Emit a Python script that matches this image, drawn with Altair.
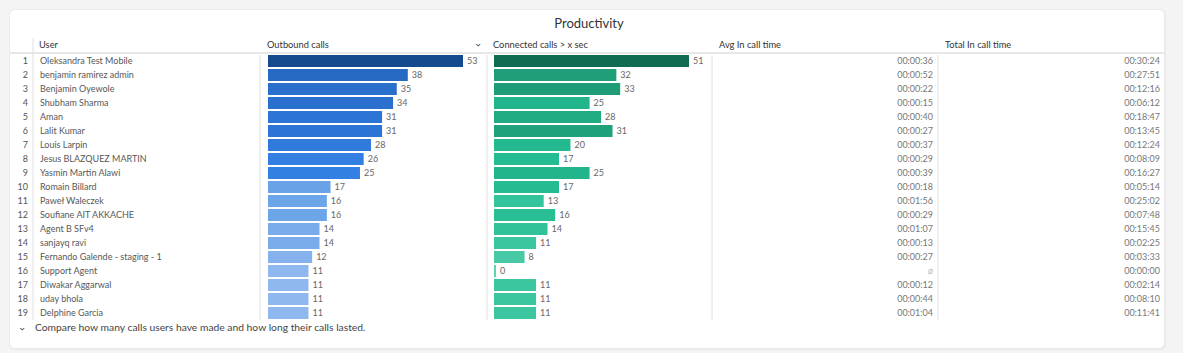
import altair as alt
import pandas as pd

users = ["Oleksandra Test Mobile", "benjamin ramirez admin", "Benjamin Oyewole", "Shubham Sharma",
         "Aman", "Lalit Kumar", "Louis Larpin", "Jesus BLAZQUEZ MARTIN", "Yasmin Martin Alawi",
         "Romain Billard", "Paweł Waleczek", "Soufiane AIT AKKACHE", "Agent B SFv4", "sanjayq ravi",
         "Fernando Galende - staging - 1", "Support Agent", "Diwakar Aggarwal", "uday bhola",
         "Delphine Garcia"]
outbound = [53, 38, 35, 34, 31, 31, 28, 26, 25, 17, 16, 16, 14, 14, 12, 11, 11, 11, 11]
connected = [51, 32, 33, 25, 28, 31, 20, 17, 25, 17, 13, 16, 14, 11, 8, 0, 11, 11, 11]
avg_time = ["00:00:36", "00:00:52", "00:00:22", "00:00:15", "00:00:40", "00:00:27", "00:00:37",
            "00:00:29", "00:00:39", "00:00:18", "00:01:56", "00:00:29", "00:01:07", "00:00:13",
            "00:00:27", None, "00:00:12", "00:00:44", "00:01:04"]
total_time = ["00:30:24", "00:27:51", "00:12:16", "00:06:12", "00:18:47", "00:13:45", "00:12:24",
              "00:08:09", "00:16:27", "00:05:14", "00:25:02", "00:07:48", "00:15:45", "00:02:25",
              "00:03:33", "00:00:00", "00:02:14", "00:08:10", "00:11:41"]

df = pd.DataFrame({
    "rank": list(range(1, len(users) + 1)),
    "user": users,
    "outbound": outbound,
    "connected": connected,
    "avg": [a if a is not None else "ø" for a in avg_time],
    "avg_missing": [a is None for a in avg_time],
    "total": total_time,
})

FONT = "Lato"
W, H = 1183, 353

base = alt.Chart(df)
Y = alt.Y("rank:O", scale=alt.Scale(domain=list(range(1, len(users) + 1)), range=[54, 320],
                                     paddingInner=0.14, paddingOuter=0.07), axis=None)

one = alt.Data(values=[{"a": 1}])

shadow = alt.Chart(one).mark_rect(fill="#ebebeb", cornerRadius=6).encode(
    x=alt.value(9), x2=alt.value(1166), y=alt.value(9), y2=alt.value(350))
card = alt.Chart(one).mark_rect(fill="white", cornerRadius=5).encode(
    x=alt.value(10), x2=alt.value(1164), y=alt.value(10), y2=alt.value(348))

title = alt.Chart(one).mark_text(text="Productivity", font=FONT, fontSize=13, color="#333",
                                 align="center", baseline="middle").encode(
    x=alt.value(589), y=alt.value(24))

hdr_line = alt.Chart(one).mark_rule(color="#cfcfcf", strokeWidth=1.2).encode(
    x=alt.value(10), x2=alt.value(1164), y=alt.value(53))

def vline(x, y0):
    return alt.Chart(one).mark_rule(color="#e0e0e0", strokeWidth=1).encode(
        x=alt.value(x), y=alt.value(y0), y2=alt.value(320))

seps = [vline(33, 38), vline(260, 55), vline(487, 55), vline(712, 55), vline(938, 55)]

def header(txt, x):
    return alt.Chart(one).mark_text(text=txt, font=FONT, fontSize=9.3, color="#333",
                                    align="left", baseline="middle").encode(
        x=alt.value(x), y=alt.value(45))

headers = [header("User", 39), header("Outbound calls", 267),
           header("Connected calls > x sec", 493), header("Avg In call time", 719),
           header("Total In call time", 945)]
chev1 = alt.Chart(one).mark_text(text="›", font="DejaVu Sans", fontSize=10, color="#333",
                                 angle=90, align="center", baseline="middle").encode(
    x=alt.value(478), y=alt.value(45))
chev2 = alt.Chart(one).mark_text(text="›", font="DejaVu Sans", fontSize=10, color="#333",
                                 angle=90, align="center", baseline="middle").encode(
    x=alt.value(22), y=alt.value(329))
footer = alt.Chart(one).mark_text(
    text="Compare how many calls users have made and how long their calls lasted.",
    font=FONT, fontSize=10.3, color="#444", align="left", baseline="middle").encode(
    x=alt.value(35), y=alt.value(328))

txt = dict(font=FONT, fontSize=9, baseline="middle")

rank_t = base.mark_text(align="right", color="#555", **txt).encode(
    x=alt.value(28), y=Y, text="rank:Q")
user_t = base.mark_text(align="left", color="#585858", **txt).encode(
    x=alt.value(40), y=Y, text="user:N")

blue_dom = [11, 12, 14, 16, 17, 25, 31, 35, 38, 53]
blue_rng = ["#8eb8ee", "#85b2ec", "#7aabea", "#6da5e9", "#6aa2e8", "#3380e3", "#2c74d6",
            "#2a6fcb", "#266ac3", "#154a8f"]
green_dom = [0, 8, 11, 13, 17, 25, 28, 33, 51]
green_rng = ["#58d0ad", "#49caa7", "#3cc6a0", "#34c49c", "#25bc92", "#22b48a", "#20ab83",
             "#1e9c78", "#106b52"]

xo = alt.Scale(domain=[0, max(outbound)], range=[268, 463], nice=False, zero=True)
xc = alt.Scale(domain=[0, max(connected)], range=[494, 689], nice=False, zero=True)

out_bar = base.mark_bar(cornerRadius=0).encode(
    x=alt.X("outbound:Q", scale=xo, axis=None), y=Y,
    color=alt.Color("outbound:Q", scale=alt.Scale(domain=blue_dom, range=blue_rng), legend=None))
out_lbl = base.mark_text(align="left", dx=4, color="#666", **txt).encode(
    x=alt.X("outbound:Q", scale=xo, axis=None), y=Y, text="outbound:Q")

conn_bar = base.transform_calculate(cbar="max(datum.connected, 0.5)").mark_bar().encode(
    x=alt.X("cbar:Q", scale=xc, axis=None), y=Y,
    color=alt.Color("connected:Q", scale=alt.Scale(domain=green_dom, range=green_rng), legend=None))
conn_lbl = base.transform_calculate(cbar="max(datum.connected, 0.5)").mark_text(
    align="left", dx=4, color="#666", **txt).encode(
    x=alt.X("cbar:Q", scale=xc, axis=None), y=Y, text="connected:Q")

avg_t = base.mark_text(align="right", **txt).encode(
    x=alt.value(933), y=Y, text="avg:N",
    color=alt.condition("datum.avg_missing", alt.value("#bbb"), alt.value("#777")))
tot_t = base.mark_text(align="right", color="#777", **txt).encode(
    x=alt.value(1160), y=Y, text="total:N")

chart = alt.layer(
    shadow, card, title, hdr_line, *seps, *headers, chev1, chev2, footer,
    rank_t, user_t, out_bar, out_lbl, conn_bar, conn_lbl, avg_t, tot_t
).resolve_scale(x="independent", color="independent").properties(
    width=W, height=H, padding=0, autosize=alt.AutoSizeParams(type="none"),
    background="#f4f4f4"
).configure_view(stroke=None)

chart.save("out.html", embed_options={"renderer": "svg", "actions": False})
